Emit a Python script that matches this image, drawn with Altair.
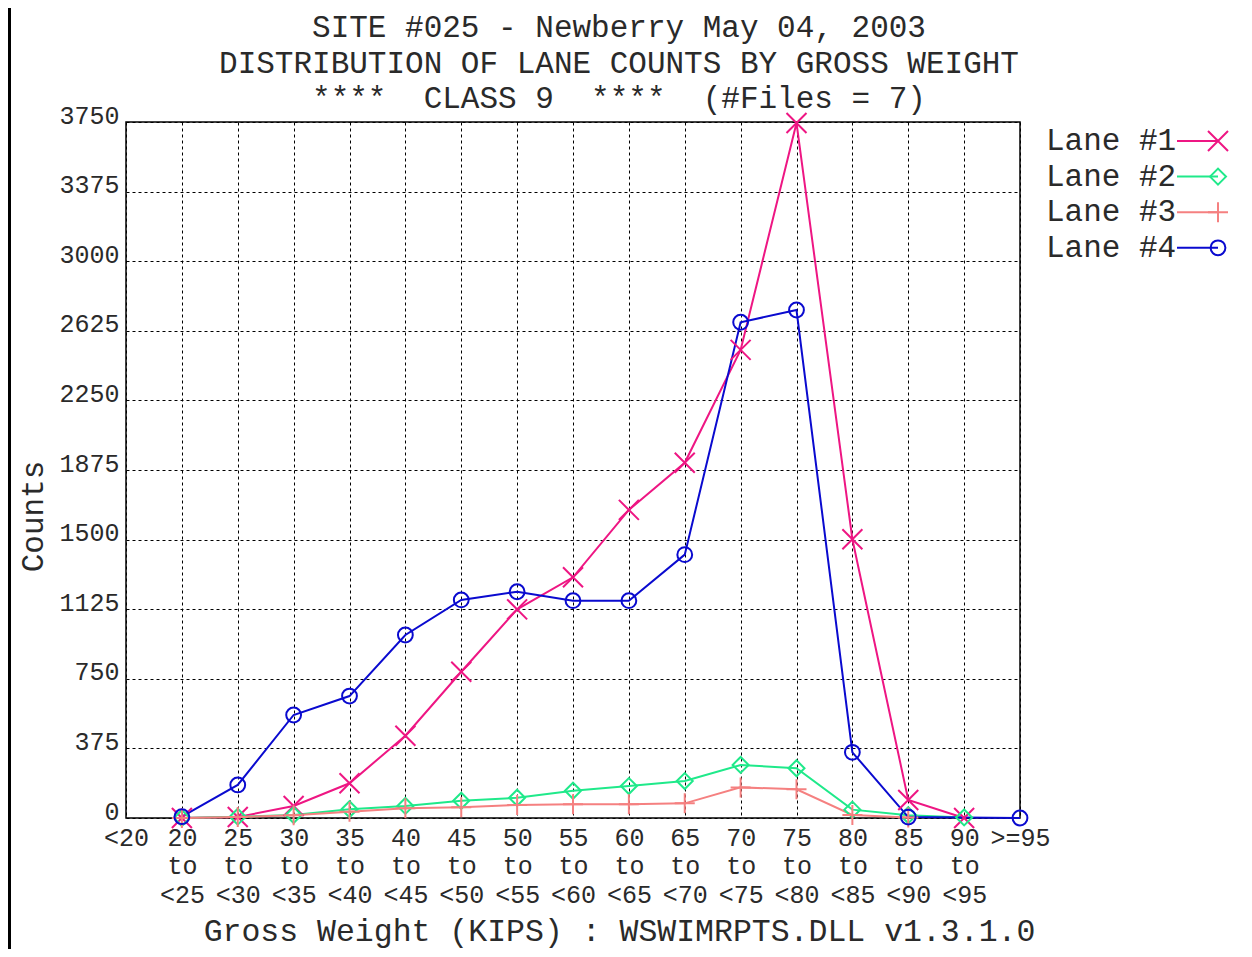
import altair as alt
import pandas as pd

NB = "\u00a0"
title_lines = ["SITE #025 - Newberry May 04, 2003",
               "DISTRIBUTION OF LANE COUNTS BY GROSS WEIGHT",
               "****" + NB * 2 + "CLASS 9" + NB * 2 + "****" + NB * 2 + "(#Files = 7)"]
categories = ["<20", "20 to <25", "25 to <30", "30 to <35", "35 to <40", "40 to <45",
              "45 to <50", "50 to <55", "55 to <60", "60 to <65", "65 to <70",
              "70 to <75", "75 to <80", "80 to <85", "85 to <90", "90 to <95", ">=95"]
lanes = ["Lane #1", "Lane #2", "Lane #3", "Lane #4"]
lane1 = [None, 0, 5, 65, 187, 443, 788, 1124, 1297, 1660, 1914, 2522, 3745, 1502, 97, 0, None]
lane2 = [None, 0, 7, 16, 47, 65, 93, 109, 147, 172, 199, 286, 268, 45, 15, 3, None]
lane3 = [None, 0, 5, 15, 34, 52, 58, 70, 74, 74, 79, 165, 155, 16, 3, None, None]
lane4 = [None, 7, 178, 555, 657, 986, 1175, 1219, 1171, 1171, 1419, 2671, 2737, 354, 5, None, 0]
y_ticks = [0, 375, 750, 1125, 1500, 1875, 2250, 2625, 3000, 3375, 3750]
colors = ["#EE1683", "#1FE98A", "#F58080", "#0A0ACF"]
shapes = ["M-1,-1L1,1M-1,1L1,-1",
          "M-0.8,0L0,-0.8L0.8,0L0,0.8Z",
          "M-1,0L1,0M0,-1L0,1",
          "M0.74,0A0.74,0.74,0,1,1,-0.74,0A0.74,0.74,0,1,1,0.74,0Z"]

rows = []
for name, vals in zip(lanes, [lane1, lane2, lane3, lane4]):
    for k, (cat, v) in enumerate(zip(categories, vals)):
        if v is not None:
            rows.append({"lane": name, "bin": cat, "bin_idx": k, "count": v})
df = pd.DataFrame(rows)
leg = pd.DataFrame({"lane": lanes, "i": list(range(len(lanes)))})
title_df = pd.DataFrame({"t": ["title"]})

FONT = "Liberation Mono"
TXT = "#2a2a2a"

color = alt.Color("lane:N", scale=alt.Scale(domain=lanes, range=colors), legend=None)
shape = alt.Shape("lane:N", scale=alt.Scale(domain=lanes, range=shapes), legend=None)

x = alt.X("bin:N", sort=categories,
          scale=alt.Scale(domain=categories, padding=0),
          axis=alt.Axis(title="Gross Weight (KIPS) : WSWIMRPTS.DLL v1.3.1.0",
                        labelAngle=0, labelExpr="split(datum.label, ' ')",
                        labelFont=FONT, labelFontSize=25, labelLineHeight=28.5,
                        labelColor=TXT, labelBaseline="top", labelPadding=7,
                        ticks=False, domain=False,
                        grid=True, gridDash=[3, 3], gridColor="black", gridOpacity=1,
                        titleFont=FONT, titleFontSize=31.5, titleFontWeight="normal",
                        titleColor=TXT, titleX=493, titleY=113,
                        titleBaseline="middle", titleAlign="center"))
y = alt.Y("count:Q", scale=alt.Scale(domain=[0, 3750], nice=False),
          axis=alt.Axis(title="Counts", values=y_ticks, format="d",
                        labelFont=FONT, labelFontSize=25, labelColor=TXT,
                        labelBaseline="alphabetic", labelPadding=7, labelAlign="right",
                        labelOffset=1,
                        ticks=False, domain=False,
                        grid=True, gridDash=[3, 3], gridColor="black", gridOpacity=1,
                        titleFont=FONT, titleFontSize=31, titleFontWeight="normal",
                        titleColor=TXT, titleAngle=270, titleX=-93, titleY=394,
                        titleBaseline="middle", titleAlign="center"))

lines = alt.Chart(df).mark_line(strokeWidth=2).encode(
    x=x, y=y, color=color, order=alt.Order("bin_idx:Q"))
points = alt.Chart(df).mark_point(filled=False, size=400, strokeWidth=2, opacity=1).encode(
    x=x, y=y, color=color, shape=shape)

leg_base = alt.Chart(leg).transform_calculate(ly="19 + 35.6 * datum.i")
leg_text = leg_base.mark_text(font=FONT, fontSize=31, align="left", baseline="middle",
                              color=TXT).encode(
    x=alt.value(920), y=alt.Y("ly:Q", scale=None), text="lane:N")
leg_line = leg_base.mark_rule(strokeWidth=2).encode(
    x=alt.value(1051), x2=alt.value(1092), y=alt.Y("ly:Q", scale=None), color=color)
leg_pt = leg_base.mark_point(filled=False, size=400, strokeWidth=2, opacity=1).encode(
    x=alt.value(1092), y=alt.Y("ly:Q", scale=None), color=color, shape=shape)

title_text = alt.Chart(title_df).mark_text(
    text=title_lines, font=FONT, fontSize=31, color=TXT, lineHeight=35.5,
    align="center", baseline="middle").encode(
    x=alt.value(493), y=alt.value(-94))

frame = alt.Chart(title_df).mark_rule(strokeWidth=4, color="black").encode(
    x=alt.value(-117), y=alt.value(-114), y2=alt.value(827))

chart = alt.layer(lines, points, leg_line, leg_pt, leg_text, title_text, frame).properties(
    width=894, height=696,
    autosize=alt.AutoSizeParams(type="none"),
    padding={"left": 118, "top": 114, "right": 224, "bottom": 131},
    background="white",
).configure_view(stroke="black", strokeWidth=1.5)

chart.save("out.html", embed_options={"renderer": "svg", "actions": False})
